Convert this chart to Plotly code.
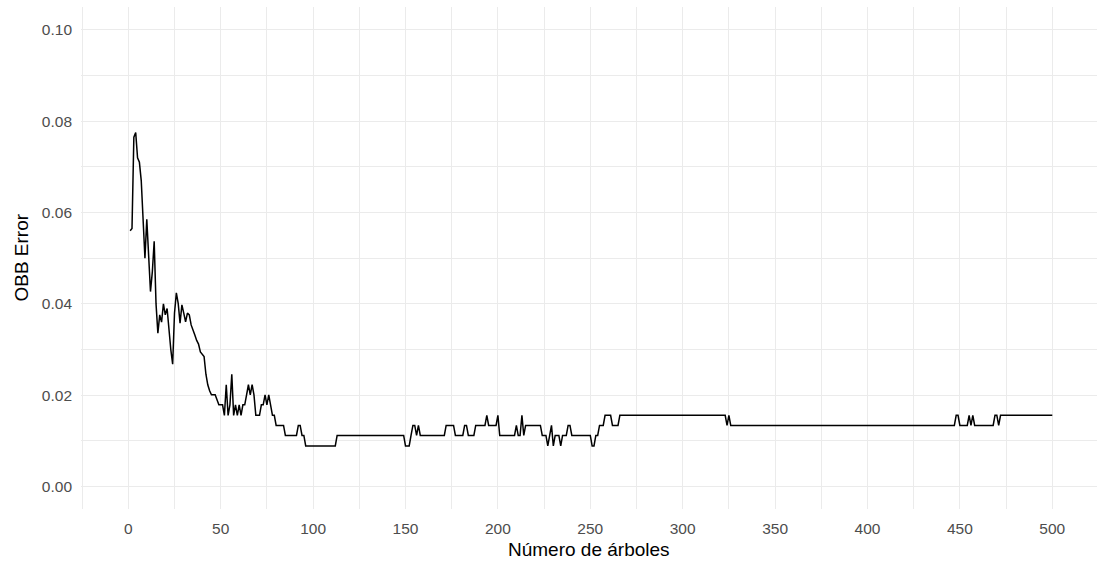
import numpy as np
import plotly.graph_objects as go

# Out-of-bag error for the first 100 trees of the forest
oob_first_100 = [
    0.0560, 0.0565, 0.0765, 0.0775, 0.0720, 0.0710, 0.0670, 0.0590, 0.0500, 0.0585,
    0.0500, 0.0427, 0.0470, 0.0537, 0.0400, 0.0336, 0.0376, 0.0360, 0.0400, 0.0376,
    0.0390, 0.0336, 0.0300, 0.0268, 0.0380, 0.0424, 0.0401, 0.0358, 0.0398, 0.0380,
    0.0361, 0.0380, 0.0376, 0.0354, 0.0340, 0.0332, 0.0320, 0.0312, 0.0295, 0.0290,
    0.0285, 0.0246, 0.0223, 0.0210, 0.0201, 0.0201, 0.0201, 0.0190, 0.0179, 0.0179,
    0.0179, 0.0156, 0.0223, 0.0156, 0.0179, 0.0246, 0.0156, 0.0179, 0.0156, 0.0179,
    0.0156, 0.0179, 0.0179, 0.0201, 0.0223, 0.0201, 0.0223, 0.0201, 0.0156, 0.0156,
    0.0156, 0.0179, 0.0179, 0.0201, 0.0179, 0.0201, 0.0179, 0.0156, 0.0156, 0.0134,
    0.0134, 0.0134, 0.0134, 0.0134, 0.0112, 0.0112, 0.0112, 0.0112, 0.0112, 0.0112,
    0.0112, 0.0134, 0.0134, 0.0112, 0.0112, 0.0089, 0.0089, 0.0089, 0.0089, 0.0089,
]

# Trees 101-500: the error holds constant over runs; last tree of each run and its error
run_last_tree = [112, 149, 152, 153, 155, 156, 157, 171, 176, 181,
                 183, 187, 193, 194, 199, 200, 209, 210, 212, 213,
                 214, 223, 226, 227, 228, 229, 230, 233, 234, 237,
                 239, 250, 252, 254, 257, 261, 265, 323, 324, 325,
                 447, 449, 454, 455, 456, 457, 468, 470, 471, 500]
run_error = [0.0089, 0.0112, 0.0089, 0.0112, 0.0134, 0.0112, 0.0134, 0.0112, 0.0134, 0.0112,
             0.0134, 0.0112, 0.0134, 0.0156, 0.0134, 0.0156, 0.0112, 0.0134, 0.0112, 0.0156,
             0.0112, 0.0134, 0.0112, 0.0089, 0.0112, 0.0134, 0.0089, 0.0112, 0.0089, 0.0112,
             0.0134, 0.0112, 0.0089, 0.0112, 0.0134, 0.0156, 0.0134, 0.0156, 0.0134, 0.0156,
             0.0134, 0.0156, 0.0134, 0.0156, 0.0134, 0.0156, 0.0134, 0.0156, 0.0134, 0.0156]

x_ticks = [0, 50, 100, 150, 200, 250, 300, 350, 400, 450, 500]
y_ticks = [0.00, 0.02, 0.04, 0.06, 0.08, 0.10]

run_lengths = np.diff([len(oob_first_100)] + run_last_tree)
oob_error = np.concatenate([oob_first_100, np.repeat(run_error, run_lengths)])
n_trees = np.arange(1, len(oob_error) + 1)

FONT = "Liberation Sans, Arial, Helvetica, sans-serif"
GRID = "#ebebeb"

fig = go.Figure(
    go.Scatter(
        x=n_trees,
        y=oob_error,
        mode="lines",
        line=dict(color="black", width=1.5),
        hoverinfo="x+y",
    )
)

fig.update_layout(
    width=1097,
    height=563,
    margin=dict(l=81, r=0, t=7, b=54),
    paper_bgcolor="white",
    plot_bgcolor="white",
    showlegend=False,
    font=dict(family=FONT, color="#4d4d4d", size=15),
)

fig.update_xaxes(
    range=[-25.6, 524.2],
    tickmode="array",
    tickvals=x_ticks,
    ticktext=[str(v) for v in x_ticks],
    showgrid=True,
    gridcolor=GRID,
    gridwidth=1.3,
    minor=dict(dtick=25, tick0=0, showgrid=True, gridcolor=GRID, gridwidth=1.0),
    zeroline=False,
    showline=False,
    ticks="",
    ticklabelstandoff=8,
    tickfont=dict(family=FONT, size=15.5, color="#4d4d4d"),
)

fig.update_yaxes(
    range=[-0.0049, 0.1050],
    tickmode="array",
    tickvals=y_ticks,
    ticktext=[f"{v:.2f}" for v in y_ticks],
    showgrid=True,
    gridcolor=GRID,
    gridwidth=1.3,
    minor=dict(dtick=0.01, tick0=0, showgrid=True, gridcolor=GRID, gridwidth=1.0),
    zeroline=False,
    showline=False,
    ticks="",
    ticklabelstandoff=8,
    tickfont=dict(family=FONT, size=15.5, color="#4d4d4d"),
)

# Axis titles
fig.add_annotation(
    text="Número de árboles",
    xref="paper", yref="paper",
    x=0.5, y=-0.081,
    xanchor="center", yanchor="middle",
    showarrow=False,
    font=dict(family=FONT, size=19, color="black"),
)
fig.add_annotation(
    text="OBB Error",
    xref="paper", yref="paper",
    x=-0.0595, y=0.5,
    xanchor="center", yanchor="middle",
    textangle=-90,
    showarrow=False,
    font=dict(family=FONT, size=19, color="black"),
)

fig.write_html("out.html")
